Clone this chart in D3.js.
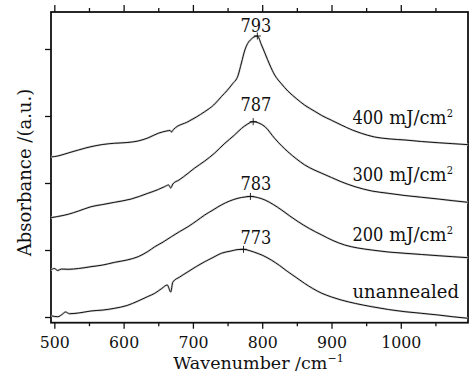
<!DOCTYPE html>
<html>
<head>
<meta charset="utf-8">
<script src="https://cdn.jsdelivr.net/npm/d3@7/dist/d3.min.js"></script>
<style>
  html, body { margin: 0; padding: 0; background: #fff; }
  svg { display: block; }
  .word { font-family: "DejaVu Serif", serif; font-size: 18px; fill: #111; }
  .num { font-family: "DejaVu Serif Condensed", "DejaVu Serif", serif; font-stretch: condensed; font-size: 18px; fill: #111; }
</style>
</head>
<body>
<svg id="chart" width="476" height="377"></svg>
<script>
// ---------- data ----------
const xMajorTicks = [500, 600, 700, 800, 900, 1000];
const xMinorTicks = [550, 650, 750, 850, 950, 1050];
const yTicks = [0, 1, 2, 3, 4];

const seriesNames = ["400 mJ/cm", "300 mJ/cm", "200 mJ/cm", "unannealed"];
const seriesSup = ["2", "2", "2", ""];
const peakWavenumbers = [793, 787, 783, 773];
const peakLabels = ["793", "787", "783", "773"];

// [wavenumber (cm^-1), absorbance (a.u., offset for display)]
const s400 = [
  [495,2.388],[505,2.403],[520,2.448],[535,2.493],[553,2.542],[570,2.575],[587,2.593],
  [605,2.604],[621,2.627],[635,2.672],[650,2.742],[662,2.776],[667,2.784],[669,2.761],
  [672,2.799],[693,2.915],[705,2.985],[717,3.064],[730,3.164],[741,3.288],[750,3.388],
  [757,3.478],[765,3.600],[770,3.791],[775,3.985],[779,4.082],[784,4.145],[788,4.179],
  [793,4.194],[799,4.060],[804,3.936],[811,3.761],[818,3.612],[828,3.478],[837,3.373],
  [850,3.254],[861,3.164],[875,3.075],[886,3.007],[900,2.936],[914,2.866],[930,2.791],
  [943,2.742],[962,2.687],[985,2.657],[1006,2.642],[1030,2.619],[1054,2.601],[1075,2.587],[1097,2.572]
];
const s300 = [
  [495,1.482],[505,1.500],[520,1.533],[535,1.582],[553,1.646],[570,1.679],[587,1.712],
  [611,1.761],[635,1.846],[650,1.903],[659,1.945],[665,1.970],[668,1.925],[671,1.985],
  [680,2.045],[693,2.145],[702,2.219],[717,2.328],[731,2.443],[745,2.582],[760,2.716],
  [770,2.813],[779,2.881],[787,2.915],[795,2.896],[804,2.840],[818,2.666],[828,2.555],
  [837,2.467],[850,2.355],[861,2.272],[875,2.195],[886,2.145],[900,2.082],[914,2.019],
  [934,1.945],[958,1.881],[982,1.846],[1006,1.813],[1030,1.787],[1054,1.761],[1075,1.736],[1097,1.712]
];
const s200 = [
  [495,0.701],[500,0.724],[505,0.694],[510,0.716],[520,0.712],[535,0.724],[553,0.751],
  [570,0.776],[587,0.816],[605,0.851],[621,0.900],[635,0.978],[645,1.049],[657,1.119],
  [669,1.199],[681,1.276],[693,1.348],[705,1.433],[717,1.522],[729,1.597],[741,1.672],
  [753,1.731],[765,1.772],[775,1.791],[783,1.799],[793,1.784],[804,1.746],[816,1.679],
  [828,1.597],[840,1.507],[852,1.422],[868,1.321],[886,1.224],[902,1.142],[919,1.075],
  [938,1.030],[958,1.000],[982,0.970],[1006,0.951],[1030,0.933],[1054,0.915],[1075,0.900],[1097,0.885]
];
const sUnannealed = [
  [495,0.019],[505,0.004],[512,0.045],[516,0.075],[522,0.049],[535,0.060],[553,0.090],
  [570,0.104],[587,0.130],[605,0.172],[621,0.239],[635,0.306],[645,0.354],[655,0.425],
  [663,0.478],[668,0.373],[671,0.522],[681,0.597],[693,0.676],[705,0.754],[717,0.825],
  [729,0.888],[741,0.951],[755,0.985],[765,1.007],[773,1.010],[781,0.993],[789,0.966],
  [801,0.918],[813,0.851],[825,0.769],[837,0.676],[849,0.590],[861,0.503],[873,0.425],
  [886,0.354],[900,0.299],[914,0.254],[935,0.201],[958,0.154],[982,0.112],[1006,0.079],
  [1030,0.055],[1054,0.030],[1075,0.004],[1097,-0.019]
];
const allSeries = [s400, s300, s200, sUnannealed];

// ---------- layout ----------
const svg = d3.select("#chart");
const plot = { left: 51, right: 468, top: 12, bottom: 322.7 };

const x = d3.scaleLinear().domain([495.2, 1097]).range([plot.left, plot.right]);
const y = d3.scaleLinear().domain([-0.085, 4.552]).range([plot.bottom, plot.top]);

// axes
function styleAxis(g) {
  g.select(".domain").remove();
  g.selectAll(".tick line").attr("stroke", "#111").attr("stroke-width", 1.3);
}
svg.append("g").attr("transform", `translate(0,${plot.bottom})`)
  .call(d3.axisBottom(x).tickValues(xMinorTicks).tickSize(3.5).tickFormat(""))
  .call(styleAxis);
const xb = svg.append("g").attr("transform", `translate(0,${plot.bottom})`)
  .call(d3.axisBottom(x).tickValues(xMajorTicks).tickSize(6).tickFormat(d3.format("d")))
  .call(styleAxis);
xb.attr("font-family", null).attr("font-size", null);
xb.selectAll(".tick text").attr("class", "num").attr("y", 25.3).attr("dy", null)
  .attr("fill", null).style("font-size", "17.5px");

svg.append("g").attr("transform", `translate(0,${plot.top})`)
  .call(d3.axisTop(x).tickValues(xMinorTicks).tickSize(4).tickFormat(""))
  .call(styleAxis);
svg.append("g").attr("transform", `translate(0,${plot.top})`)
  .call(d3.axisTop(x).tickValues(xMajorTicks).tickSize(7).tickFormat(""))
  .call(styleAxis);
svg.append("g").attr("transform", `translate(${plot.left},0)`)
  .call(d3.axisLeft(y).tickValues(yTicks).tickSize(6).tickFormat(""))
  .call(styleAxis);

// frame
svg.append("rect")
  .attr("x", plot.left).attr("y", plot.top)
  .attr("width", plot.right - plot.left).attr("height", plot.bottom - plot.top)
  .attr("fill", "none").attr("stroke", "#111").attr("stroke-width", 1.8);

// curves
const line = d3.line().x(d => x(d[0])).y(d => y(d[1])).curve(d3.curveMonotoneX);
svg.append("defs").append("clipPath").attr("id", "clip")
  .append("rect").attr("x", plot.left).attr("y", plot.top)
  .attr("width", plot.right - plot.left).attr("height", plot.bottom - plot.top);
const curves = svg.append("g").attr("clip-path", "url(#clip)");
allSeries.forEach(s => {
  curves.append("path").datum(s).attr("d", line)
    .attr("fill", "none").attr("stroke", "#cfcfcf").attr("stroke-width", 2.2);
  curves.append("path").datum(s).attr("d", line)
    .attr("fill", "none").attr("stroke", "#111").attr("stroke-width", 1.0);
});

// peak markers and labels
const labelOffsets = [4, 11, 6.5, 5.5];
allSeries.forEach((s, i) => {
  const pk = s.reduce((a, b) => (b[1] > a[1] ? b : a));
  const px = x(peakWavenumbers[i]), py = y(pk[1]);
  svg.append("path")
    .attr("d", `M${px - 3.5},${py}H${px + 3.5}M${px},${py - 3.5}V${py + 3.5}`)
    .attr("stroke", "#111").attr("stroke-width", 0.9);
  svg.append("text").attr("class", "num")
    .attr("x", x(791)).attr("y", py - labelOffsets[i])
    .attr("text-anchor", "middle").text(peakLabels[i]);
});

// series labels
const seriesLabelBaselineValues = [2.88, 2.03, 1.13, 0.29];
seriesNames.forEach((name, i) => {
  const t = svg.append("text").attr("class", "word")
    .attr("x", 352.5).attr("y", y(seriesLabelBaselineValues[i]));
  const m = name.match(/^(\d+)(.*)$/);
  if (m) {
    t.append("tspan").attr("class", "num").text(m[1]);
    t.append("tspan").text(m[2]);
  } else {
    t.append("tspan").text(name);
  }
  if (seriesSup[i]) {
    t.append("tspan").attr("class", "num").style("font-size", "11px")
      .attr("dy", -7).text(seriesSup[i]);
  }
});

// axis titles
const xt = svg.append("text").attr("class", "word").style("font-size", "17.5px")
  .attr("x", 258.5).attr("y", 369).attr("text-anchor", "middle");
xt.append("tspan").text("Wavenumber /cm");
xt.append("tspan").attr("dy", -7).style("font-size", "11px").text("−1");

svg.append("text").attr("class", "word")
  .attr("transform", "translate(31,172.5) rotate(-90)")
  .attr("text-anchor", "middle").text("Absorbance /(a.u.)");
</script>
</body>
</html>
